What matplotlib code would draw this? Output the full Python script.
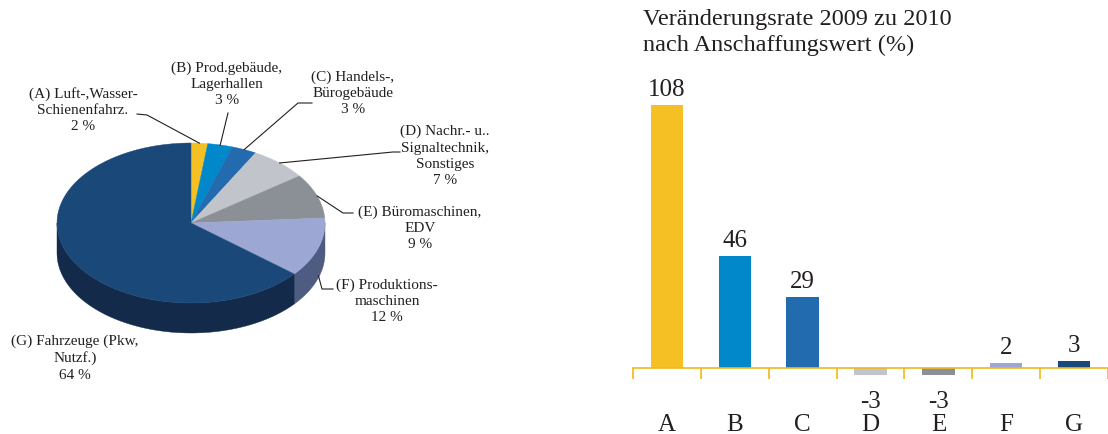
import numpy as np
import matplotlib.pyplot as plt
from matplotlib.patches import Polygon

plt.rcParams['font.family'] = ['Liberation Serif', 'DejaVu Serif']

# data
codes = ['A', 'B', 'C', 'D', 'E', 'F', 'G']
pie_labels = ['(A) Luft-,Wasser-\nSchienenfahrz.\n2 %',
              '(B) Prod.gebäude,\nLagerhallen\n3 %',
              '(C) Handels-,\nBürogebäude\n3 %',
              '(D) Nachr.- u..\nSignaltechnik,\nSonstiges\n7 %',
              '(E) Büromaschinen,\nEDV\n9 %',
              '(F) Produktions-\nmaschinen\n12 %',
              '(G) Fahrzeuge (Pkw,\nNutzf.)\n64 %']
shares = [2, 3, 3, 7, 9, 12, 64]
change = [108, 46, 29, -3, -3, 2, 3]
title = 'Veränderungsrate 2009 zu 2010\nnach Anschaffungswert (%)'

colors = ['#f5c024', '#0088ca', '#236baf', '#c1c5cb', '#8a9096', '#9ca7d3', '#1a4879']
side_colors = ['#b08a18', '#006190', '#194d7e', '#8a8d92', '#63676c', '#4e5c82', '#142a4b']

# label placement (pixels) and leader line bends
label_pos = [(83, 110), (227, 84), (353, 93), (445, 156), (420, 228), (387, 301), (75, 358)]
leaders = [[(147, 115), (137, 114)], [(228, 113)], [(298, 103), (312, 103)],
           [(393, 152), (400, 152)], [(343, 213), (353, 213)], [(322, 289), (333, 289)], None]

fig = plt.figure(figsize=(11.08, 4.34), dpi=100)

# ---- 3d pie ----
ax = fig.add_axes([0, 0, 0.5, 1])
ax.set_xlim(0, 554)
ax.set_ylim(434, 0)
ax.axis('off')

cx, cy, rx, ry, depth = 191, 223, 134, 80, 30
frac = np.array(shares) / sum(shares)
bounds = 90 - 360 * np.concatenate([[0], np.cumsum(frac)])

def pt(t):
    t = np.radians(t)
    return cx + rx * np.cos(t), cy - ry * np.sin(t)

# side walls (front half only)
for i in range(len(shares)):
    hi = min(bounds[i], 0)
    lo = max(bounds[i + 1], -180)
    if lo >= hi:
        continue
    ts = np.linspace(hi, lo, 80)
    x, y = pt(ts)
    xs = np.concatenate([x, x[::-1]])
    ys = np.concatenate([y, (y + depth)[::-1]])
    ax.add_patch(Polygon(np.column_stack([xs, ys]), closed=True,
                         facecolor=side_colors[i], edgecolor=side_colors[i], linewidth=0.3))

# top faces
for i in range(len(shares)):
    ts = np.linspace(bounds[i], bounds[i + 1], 120)
    x, y = pt(ts)
    xs = np.concatenate([[cx], x])
    ys = np.concatenate([[cy], y])
    ax.add_patch(Polygon(np.column_stack([xs, ys]), closed=True,
                         facecolor=colors[i], edgecolor=colors[i], linewidth=0.3))

# labels and leader lines
for i, lab in enumerate(pie_labels):
    mid = (bounds[i] + bounds[i + 1]) / 2
    ax.text(label_pos[i][0], label_pos[i][1], lab, ha='center', va='center',
            fontsize=11, linespacing=1.32, color='#231f20')
    if leaders[i] is None:
        continue
    ax_x, ax_y = pt(mid)
    if np.sin(np.radians(mid)) < 0:
        ax_y += depth - 2
    pts = [(ax_x, ax_y)] + leaders[i]
    ax.plot([p[0] for p in pts], [p[1] for p in pts], color='#231f20', lw=0.8)

# ---- bar chart ----
axis_col = '#f0b81c'
axb = fig.add_axes([633 / 1108, 0, 475 / 1108, 1])
xs = np.arange(len(codes))
axb.bar(xs, change, width=0.48, color=colors)
axb.set_xlim(-0.5, 6.444)
axb.set_ylim(-27.1, 151.1)
for s in ['top', 'left', 'right']:
    axb.spines[s].set_visible(False)
axb.spines['bottom'].set_position(('data', 0))
axb.spines['bottom'].set_color(axis_col)
axb.spines['bottom'].set_linewidth(1.2)
axb.set_yticks([])
axb.set_xticks(np.arange(-0.5, 7, 1))
axb.set_xticklabels([])
axb.tick_params(axis='x', which='major', length=8, width=1.2, color=axis_col, direction='out')
axb.set_xticks(xs, minor=True)
axb.set_xticklabels(codes, minor=True, fontsize=18, color='#231f20')
axb.tick_params(axis='x', which='minor', length=0, pad=33)
axb.patch.set_alpha(0)

for x, v in zip(xs, change):
    if v >= 0:
        axb.annotate(str(v), (x, v), xytext=(0, 3), textcoords='offset points',
                     ha='center', va='bottom', fontsize=18, color='#231f20')
    else:
        axb.annotate(str(v), (x, v), xytext=(0, -11), textcoords='offset points',
                     ha='center', va='top', fontsize=18, color='#231f20')

fig.text(643 / 1108, 1 - 9 / 434, title, ha='left', va='top', fontsize=17.5,
         linespacing=1.27, color='#231f20')

fig.savefig('out.png', dpi=100)
